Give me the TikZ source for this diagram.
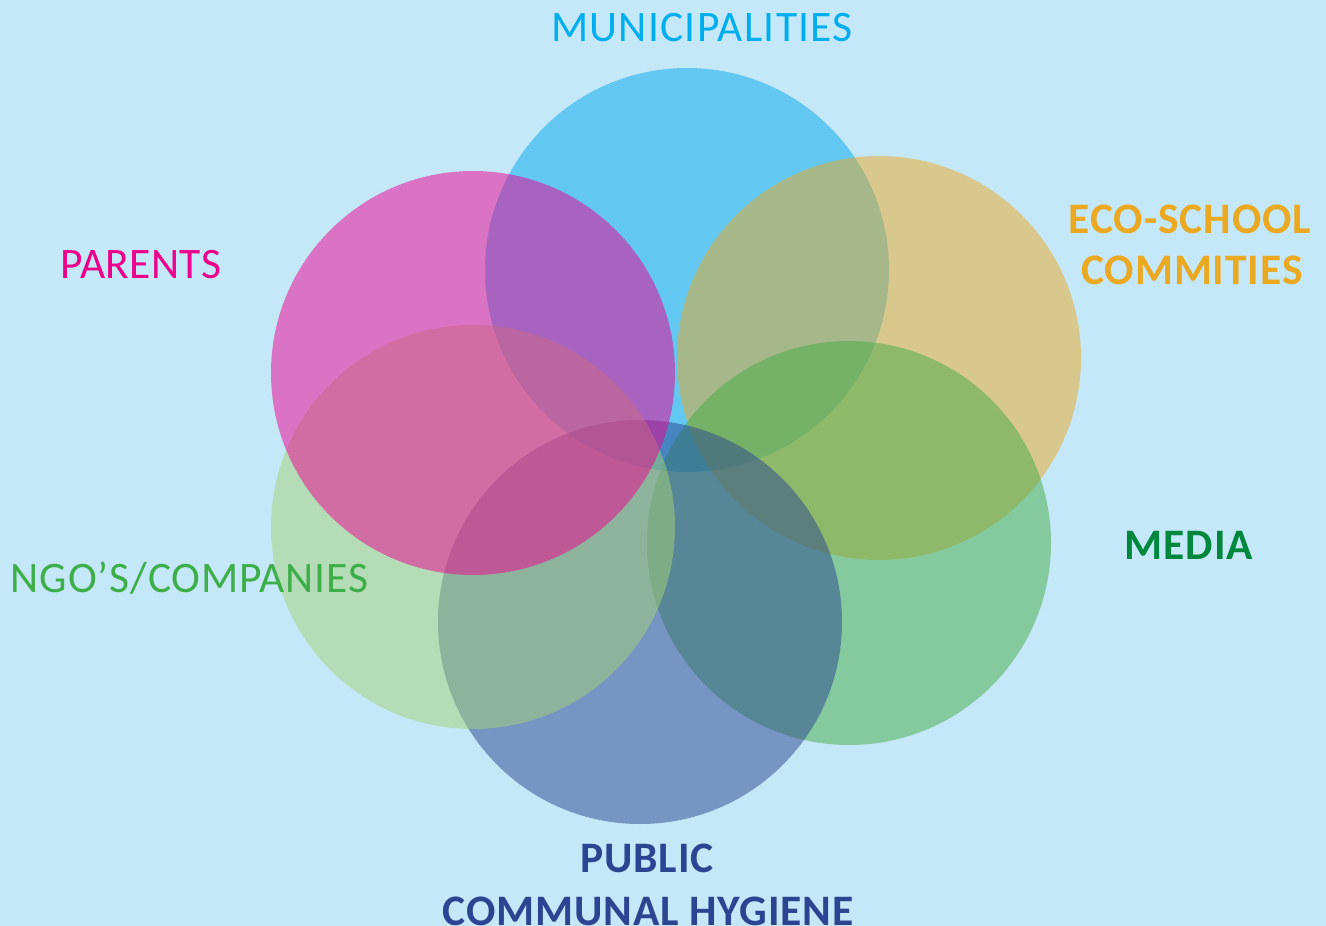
\documentclass[tikz,border=0pt]{standalone}
\usepackage{fontspec}
\setmainfont{Carlito}
\definecolor{bg}{RGB}{197,232,248}
\definecolor{cMun}{RGB}{0,170,236}
\definecolor{cEco}{RGB}{235,170,36}
\definecolor{cPar}{RGB}{239,0,144}
\definecolor{cNgo}{RGB}{165,210,120}
\definecolor{cMed}{RGB}{71,172,72}
\definecolor{cPub}{RGB}{43,68,144}
\definecolor{tMun}{RGB}{0,174,239}
\definecolor{tEco}{RGB}{235,169,34}
\definecolor{tPar}{RGB}{236,0,140}
\definecolor{tNgo}{RGB}{61,174,73}
\definecolor{tMed}{RGB}{0,135,62}
\definecolor{tPub}{RGB}{43,69,147}
\tikzset{
  disc/.style={fill=#1, fill opacity=0.5, draw=none},
  lab/.style={anchor=base, inner sep=0pt, text=#1, font=\fontsize{43.5}{50}\selectfont\addfontfeatures{LetterSpace=2}},
  blab/.style={lab=#1, font=\fontsize{43.5}{50}\selectfont\bfseries\addfontfeatures{LetterSpace=2}},
}
\begin{document}
\begin{tikzpicture}[x=1pt,y=-1pt]
\fill[bg] (0,0) rectangle (1326,926);
\useasboundingbox (0,0) rectangle (1326,926);
\fill[disc=cMun] (687,270) circle[radius=202];
\fill[disc=cEco] (879,358) circle[radius=202];
\fill[disc=cMed] (849,543) circle[radius=202];
\fill[disc=cPub] (640,622) circle[radius=202];
\fill[disc=cNgo] (473,527) circle[radius=202];
\fill[disc=cPar] (473,373) circle[radius=202];
\node[lab=tMun, font=\fontsize{43.5}{50}\selectfont\addfontfeatures{LetterSpace=3}] (mun) at (702,41) {MUNICIPALITIES};
\node[blab=tEco] (eco1) at (1190,233) {ECO-SCHOOL};
\node[blab=tEco] (eco2) at (1192,284) {COMMITIES};
\node[lab=tPar, font=\fontsize{43.5}{50}\selectfont\addfontfeatures{LetterSpace=0.8}] (par) at (141,278) {PARENTS};
\node[lab=tNgo] (ngo) at (189.5,592) {NGO’S/COMPANIES};
\node[blab=tMed] (med) at (1189,559) {MEDIA};
\node[blab=tPub] (pub1) at (647,872) {PUBLIC};
\node[blab=tPub] (pub2) at (648,925) {COMMUNAL HYGIENE};
\end{tikzpicture}
\end{document}
